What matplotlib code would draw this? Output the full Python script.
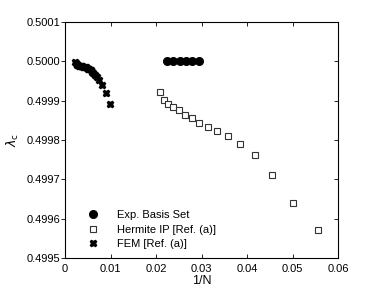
import numpy as np
import matplotlib
matplotlib.use('Agg')
import matplotlib.pyplot as plt
from matplotlib.ticker import FormatStrFormatter

plt.rcParams['font.family'] = ['Liberation Sans', 'DejaVu Sans']
plt.rcParams['mathtext.fontset'] = 'dejavusans'

# Exp. Basis Set
exp_x = [0.0224, 0.0238, 0.0252, 0.0266, 0.0280, 0.0294]
exp_y = [0.50000, 0.50000, 0.50000, 0.50000, 0.50000, 0.50000]

# Hermite IP [Ref. (a)]
herm_x = [0.0208, 0.0217, 0.0227, 0.0238, 0.0250, 0.0263, 0.0278, 0.0294,
          0.0313, 0.0333, 0.0357, 0.0385, 0.0417, 0.0455, 0.0500, 0.0556]
herm_y = [0.499922, 0.499902, 0.499892, 0.499884, 0.499876, 0.499864, 0.499856, 0.499843,
          0.499833, 0.499823, 0.499810, 0.499790, 0.499762, 0.499711, 0.499640, 0.499571]

# FEM [Ref. (a)]
fem_x = [0.0022, 0.0024, 0.0026, 0.0028, 0.0030, 0.0032, 0.0034, 0.0036, 0.0038,
         0.0040, 0.0042, 0.0044, 0.0046, 0.0048, 0.0050, 0.0053, 0.0056, 0.0059,
         0.0062, 0.0066, 0.0070, 0.0075, 0.0081, 0.0090, 0.0099]
fem_y = [0.499999, 0.499995, 0.499992, 0.499990, 0.499989, 0.499989, 0.499988, 0.499988, 0.499988,
         0.499987, 0.499987, 0.499986, 0.499985, 0.499984, 0.499982, 0.499980, 0.499977, 0.499974,
         0.499970, 0.499966, 0.499960, 0.499952, 0.499940, 0.499920, 0.499893]

fig = plt.figure(figsize=(3.74, 2.91), dpi=100)
ax = fig.add_axes([0.174, 0.113, 0.730, 0.811])

ax.plot(exp_x, exp_y, 'o', color='black', markersize=5.5, linestyle='none', label='Exp. Basis Set')
ax.plot(herm_x, herm_y, 's', markerfacecolor='white', markeredgecolor='#333333',
        markersize=4.5, markeredgewidth=0.8, linestyle='none', label='Hermite IP [Ref. (a)]')
ax.plot(fem_x, fem_y, 'X', color='black', markersize=5, linestyle='none', label='FEM [Ref. (a)]')

ax.set_xlim(0, 0.06)
ax.set_ylim(0.4995, 0.5001)
ax.set_xticks([0, 0.01, 0.02, 0.03, 0.04, 0.05, 0.06])
ax.set_xticklabels(['0', '0.01', '0.02', '0.03', '0.04', '0.05', '0.06'])
ax.set_yticks([0.4995, 0.4996, 0.4997, 0.4998, 0.4999, 0.5000, 0.5001])
ax.yaxis.set_major_formatter(FormatStrFormatter('%.4f'))
ax.tick_params(axis='x', direction='in', top=True, labelsize=8, length=3, width=0.6, pad=4)
ax.tick_params(axis='y', which='both', left=False, right=True, direction='in',
               labelsize=8, length=3, width=0.6)
# left side: outward ticks
ax.tick_params(axis='y', left=True, labelleft=True)
for t in ax.yaxis.get_major_ticks():
    t.tick1line.set_marker(matplotlib.lines.TICKLEFT)
    t.tick1line.set_markersize(3)
for s in ax.spines.values():
    s.set_linewidth(0.8)

ax.set_xlabel('1/N', fontsize=9, labelpad=1)
ax.set_ylabel(r'$\lambda_{\rm c}$', fontsize=9, labelpad=4)

ax.legend(loc='lower left', bbox_to_anchor=(0.045, 0.02), frameon=False, fontsize=8,
          handletextpad=1.2, labelspacing=0.4, borderaxespad=0)

fig.savefig('out.png', dpi=100)
